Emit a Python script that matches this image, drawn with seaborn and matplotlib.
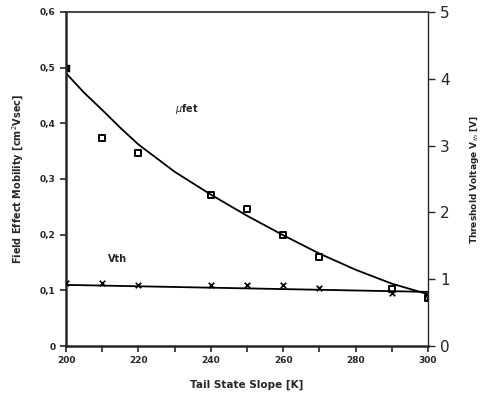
import matplotlib
matplotlib.use("Agg")
import matplotlib.pyplot as plt
import seaborn as sns
import pandas as pd
import numpy as np

# data
mu_x = [200, 210, 220, 240, 250, 260, 270, 290, 300]
mu_y = [0.50, 0.374, 0.347, 0.272, 0.247, 0.200, 0.160, 0.102, 0.086]
curve_x = [200, 205, 210, 215, 220, 230, 240, 250, 260, 270, 280, 290, 300]
curve_y = [0.490, 0.455, 0.424, 0.392, 0.362, 0.313, 0.272, 0.234, 0.199, 0.166, 0.137, 0.112, 0.093]
vth_x = [200, 210, 220, 240, 250, 260, 270, 290, 300]
vth_v = [0.94, 0.94, 0.92, 0.91, 0.91, 0.91, 0.87, 0.79, 0.72]
vfit_x = [200, 300]
vfit_v = [0.915, 0.81]
xticks = [200, 220, 240, 260, 280, 300]
yticks_left = [0, 0.1, 0.2, 0.3, 0.4, 0.5, 0.6]
yticklabels_left = ["0", "0,1", "0,2", "0,3", "0,4", "0,5", "0,6"]
yticks_right = [0, 1, 2, 3, 4, 5]

sns.set_style("ticks")
plt.rcParams['font.family'] = ['DejaVu Sans']

fig = plt.figure(figsize=(4.82, 4.0), dpi=100)
ax = fig.add_axes([0.137, 0.135, 0.751, 0.835])

sns.lineplot(x=curve_x, y=curve_y, ax=ax, color="black", lw=1.3)
sns.scatterplot(x=mu_x[1:], y=mu_y[1:], ax=ax, marker="s", s=22,
                facecolor="white", edgecolor="black", linewidth=1.4)
sns.scatterplot(x=mu_x[:1], y=mu_y[:1], ax=ax, marker="s", s=28,
                color="black")
ax.set_xlim(200, 300)
ax.set_ylim(0, 0.6)
ax.set_xticks(xticks)
ax.set_xticks(np.arange(200, 301, 10), minor=True)
ax.set_yticks(yticks_left)
ax.set_yticklabels(yticklabels_left)
ax.tick_params(axis="both", which="both", direction="out", labelsize=6.5, width=1.2)
ax.tick_params(axis="both", which="major", length=4)
ax.tick_params(axis="x", which="minor", length=4)
for lab in ax.get_xticklabels() + ax.get_yticklabels():
    lab.set_fontweight("bold")
ax.set_xlabel("Tail State Slope [K]", fontsize=7.5, fontweight="bold", labelpad=10)
ax.set_ylabel("Field Effect Mobility [cm$^2$Vsec]", fontsize=7, fontweight="bold", labelpad=10)
ax.spines["left"].set_linewidth(1.8)
ax.spines["bottom"].set_linewidth(1.8)
ax.spines["top"].set_linewidth(1.2)
ax.spines["right"].set_visible(False)

ax2 = ax.twinx()
sns.lineplot(x=vfit_x, y=vfit_v, ax=ax2, color="black", lw=1.3)
sns.scatterplot(x=vth_x, y=vth_v, ax=ax2, marker="x", s=16, color="black", linewidth=1.2)
ax2.set_ylim(0, 5)
ax2.set_yticks(yticks_right)
ax2.tick_params(axis="y", direction="out", labelsize=11, length=5, width=1)
ax2.set_ylabel("Threshold Voltage V$_{th}$ [V]", fontsize=6.5, fontweight="bold", labelpad=13)
for s in ["left", "top", "bottom"]:
    ax2.spines[s].set_visible(False)
ax2.spines["right"].set_linewidth(1.0)

ax.text(230, 0.42, r"$\mu$fet", fontsize=7, fontweight="bold")
ax.text(211.5, 0.15, "Vth", fontsize=7, fontweight="bold")

fig.savefig("out.png", dpi=100)
